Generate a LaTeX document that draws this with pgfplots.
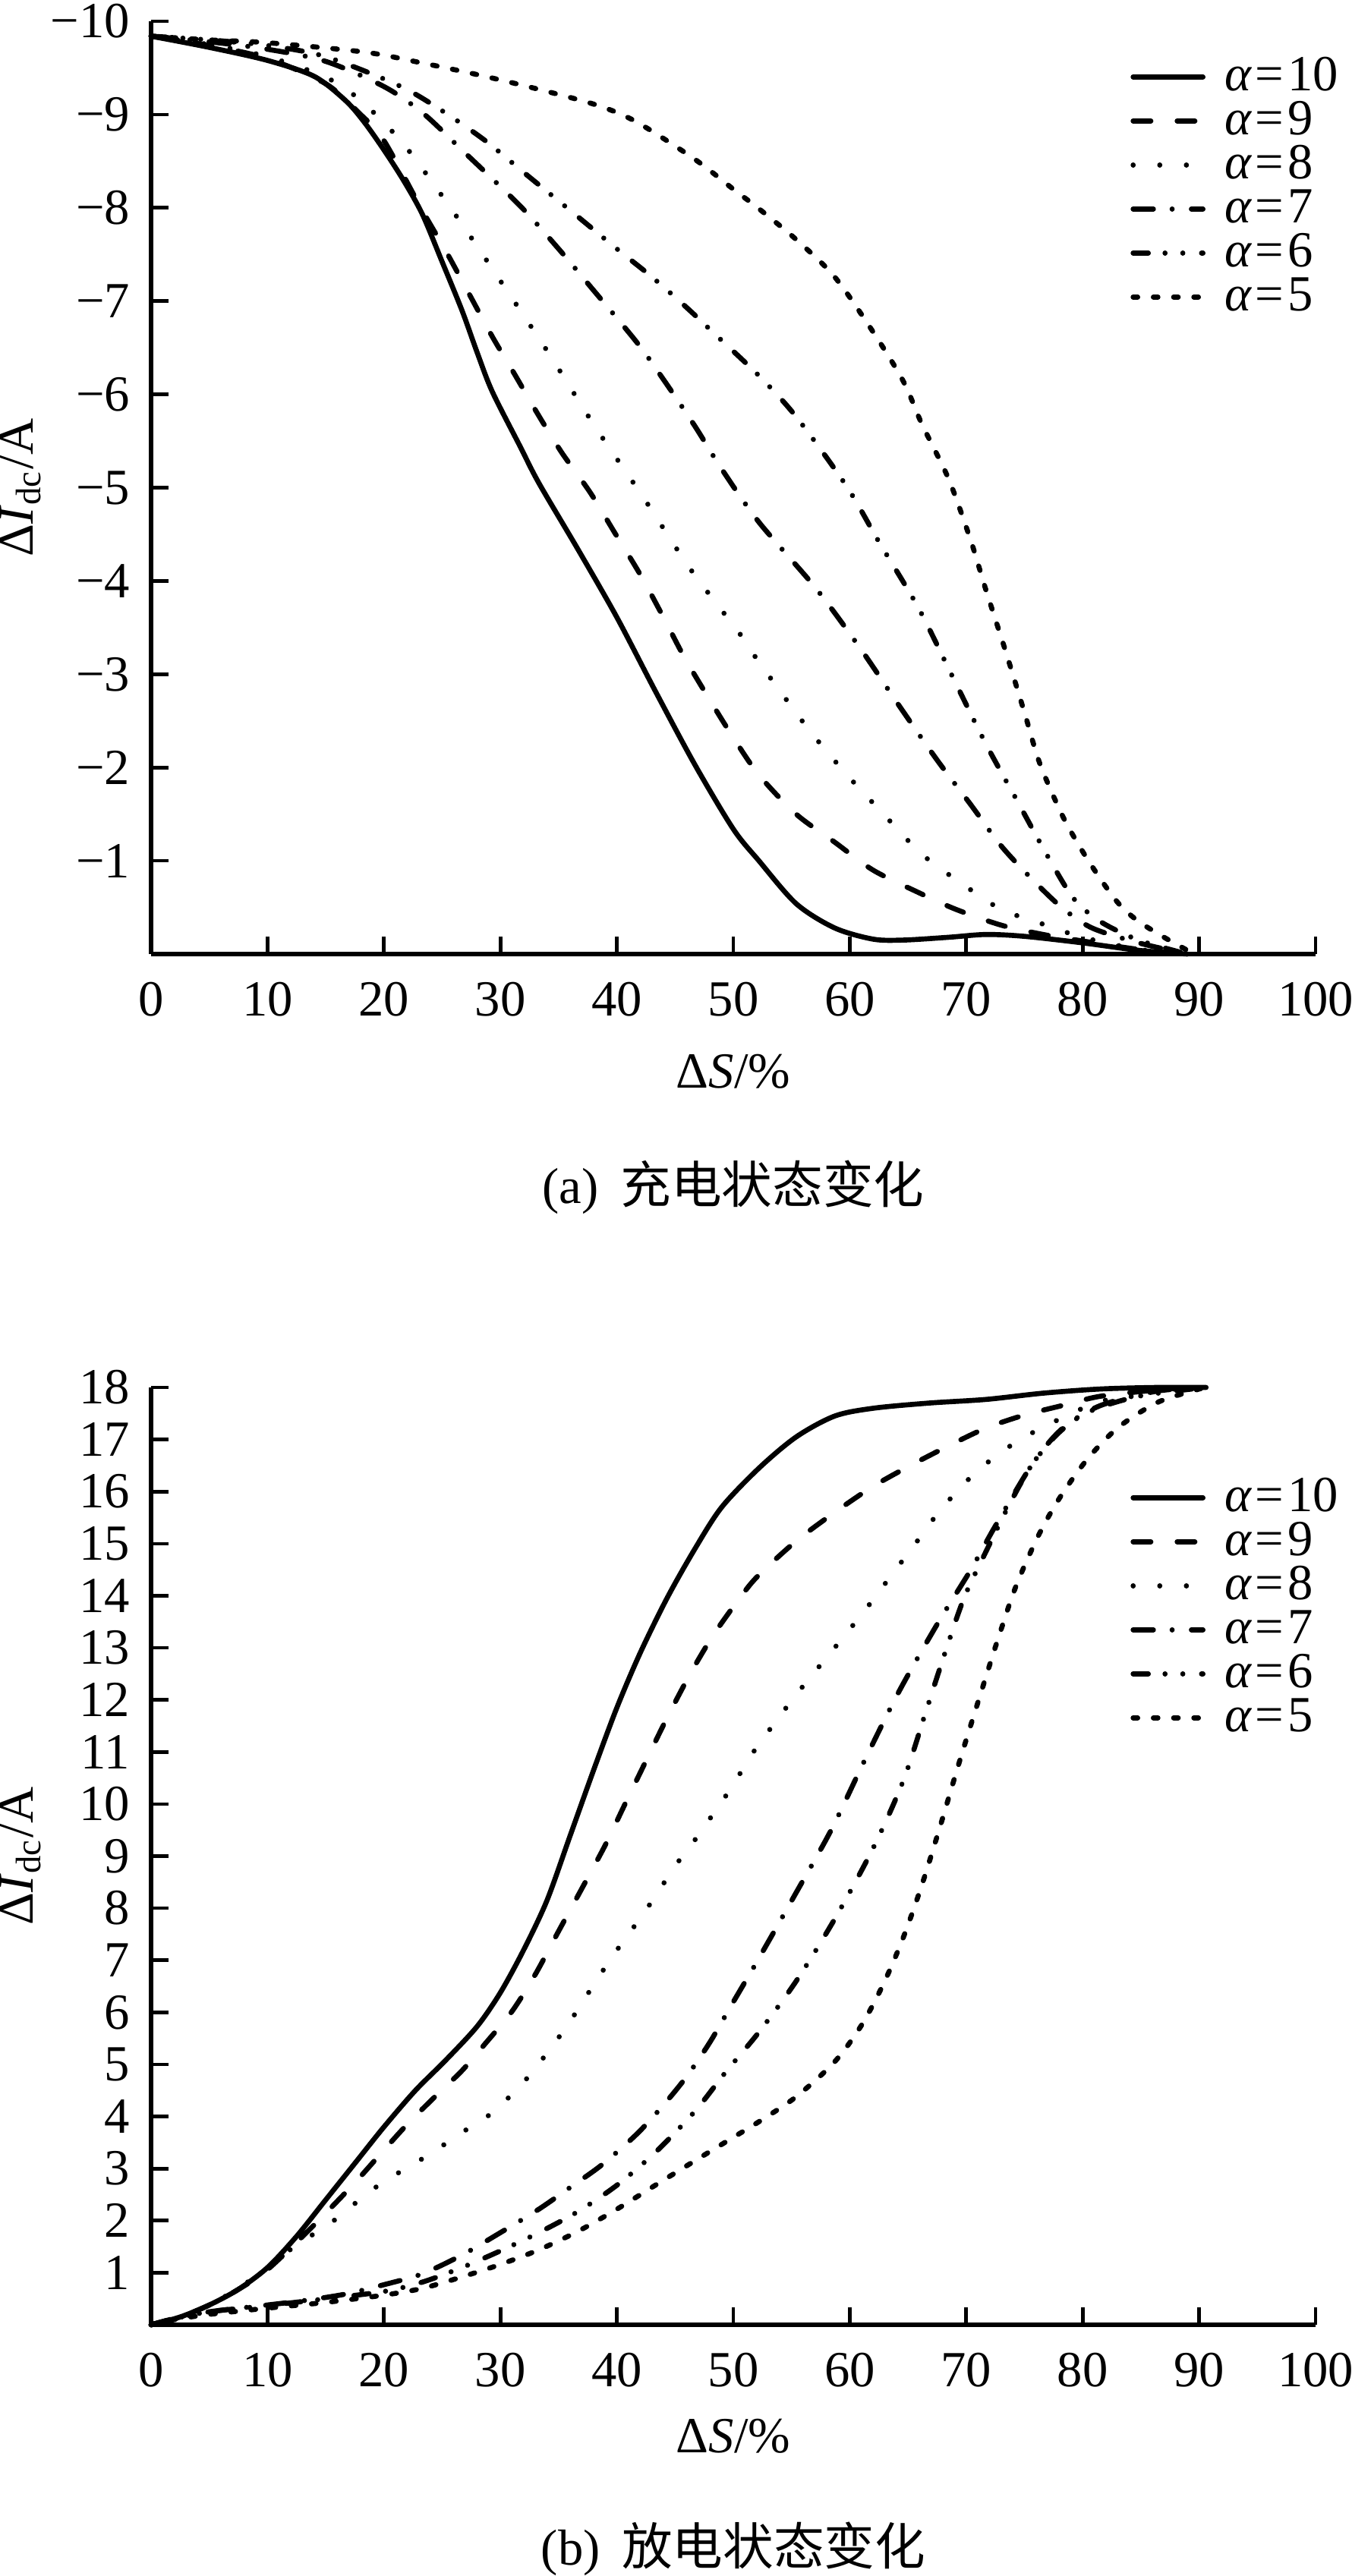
\documentclass[border=0pt]{standalone}
\usepackage{fontspec}
\setmainfont{Liberation Serif}
\newfontfamily\cjk{Noto Sans CJK SC}
\usepackage{pgfplots}
\pgfplotsset{compat=1.18}

\newcommand{\al}[1]{{\itshape α}\kern0.8pt=\kern0.8pt#1}

\pgfplotsset{
  base/.style={
    scale only axis, width=230.1pt,
    xmin=0, xmax=100, xtick={0,10,...,100},
    axis lines=left, axis line style={-, line width=0.8pt},
    tick align=inside, major tick length=3.5pt,
    tick style={line width=0.7pt, black},
    /pgf/number format/assume math mode=true,
    xticklabel style={anchor=center, yshift=-9pt},
    yticklabel style={anchor=east, inner sep=0pt, xshift=-4pt},
    xlabel={Δ\textit{S}/\%},
    ylabel={Δ\textit{I}\textsubscript{dc}/A},
    ylabel style={at={(axis description cs:-0.1121,0.5)}, anchor=center},
    clip=false,
    legend cell align=left,
    legend image code/.code={\draw[#1] (0pt,0pt) -- (13.8pt,0pt);},
    every axis plot/.append style={line width=1pt, line cap=round, black, smooth},
  },
  s10/.style={solid},
  s9/.style={dash pattern=on 3.5pt off 5.2pt},
  s8/.style={dash pattern=on 0.01pt off 5.25pt},
  s7/.style={dash pattern=on 4pt off 3.7pt on 0.01pt off 3.8pt},
  s6/.style={dash pattern=on 3pt off 3.3pt on 0.01pt off 3.5pt on 0.01pt off 3.7pt},
  s5/.style={dash pattern=on 0.9pt off 3.1pt},
}

\begin{document}
\begin{tikzpicture}
\useasboundingbox (-29.85pt,-320.55pt) rectangle (237.3pt,188.55pt);

% ---------------- (a) charging ----------------
\begin{axis}[base, height=184.35pt, at={(0,0)}, anchor=south west,
  ymin=-10, ymax=0, y dir=reverse,
  ytick={-10,-9,-8,-7,-6,-5,-4,-3,-2,-1},
  yticklabels={−10,−9,−8,−7,−6,−5,−4,−3,−2,−1},
  xlabel style={at={(axis description cs:0.5,0)}, anchor=center, yshift=-23.25pt},
  legend style={draw=none, fill=none, at={(0.8403,0.9599)}, anchor=north west,
    inner sep=0pt, row sep=1.9pt, column sep=3.75pt,
    nodes={inner sep=0pt, text height=6.2pt, text depth=0.6pt, anchor=west}},
]
\addplot[s10] coordinates {
(0,-9.84) (5,-9.72) (10,-9.58) (14,-9.41) (16.7,-9.15) (18.3,-8.92) (20,-8.62)
(21.7,-8.29) (23.3,-7.93) (25,-7.42) (26.7,-6.9) (28,-6.45) (29.3,-6.03)
(31.7,-5.44) (33.3,-5.05) (36.7,-4.33) (40,-3.61) (43.3,-2.82) (46.7,-2.03)
(50,-1.34) (52.2,-1.0) (55.4,-0.54) (58.7,-0.28) (62,-0.16) (64.6,-0.15)
(68.5,-0.18) (71.7,-0.21) (75,-0.19) (80,-0.12) (84.8,-0.04) (89,0)};
\addlegendentry{\al{10}}
\addplot[s9] coordinates {
(0,-9.84) (5,-9.74) (10,-9.6) (15,-9.33) (18,-9.0) (20,-8.72) (23.3,-7.97)
(25.3,-7.54) (27.3,-7.08) (29.3,-6.62) (31.2,-6.22) (33.3,-5.77) (35.3,-5.37)
(37.7,-4.95) (39.8,-4.52) (42,-4.07) (44,-3.61) (45.8,-3.18) (48,-2.72)
(50,-2.32) (52.2,-1.92) (55.4,-1.5) (58.7,-1.2) (62,-0.9) (65.9,-0.66)
(69.1,-0.48) (73,-0.31) (76.6,-0.21) (80,-0.14) (84.8,-0.05) (89,0)};
\addlegendentry{\al{9}}
\addplot[s8] coordinates {
(0,-9.84) (5,-9.75) (10,-9.62) (15,-9.4) (18,-9.15) (21.7,-8.68) (26,-7.95)
(30.2,-7.18) (34.2,-6.43) (38.2,-5.64) (42.3,-4.89) (46.3,-4.13) (50.7,-3.41)
(52.2,-3.13) (56.4,-2.42) (59.7,-1.93) (62.9,-1.5) (66.2,-1.07) (69.8,-0.74)
(73,-0.48) (76.6,-0.32) (80,-0.18) (84.8,-0.05) (89,0)};
\addlegendentry{\al{8}}
\addplot[s7] coordinates {
(0,-9.84) (5,-9.78) (10,-9.7) (15,-9.57) (20,-9.3) (23.3,-9.02) (26.7,-8.62)
(31.7,-8.02) (35,-7.56) (37.7,-7.16) (41.7,-6.56) (44,-6.16) (46.7,-5.66)
(49,-5.2) (52.2,-4.63) (57.1,-3.92) (61,-3.26) (64.2,-2.67) (67.5,-2.08)
(70.4,-1.6) (73,-1.16) (75.6,-0.81) (78.2,-0.5) (80.8,-0.28) (84.8,-0.12) (89,0)};
\addlegendentry{\al{7}}
\addplot[s6] coordinates {
(0,-9.84) (5,-9.8) (10,-9.74) (15,-9.62) (21.3,-9.31) (25,-9.04) (28.7,-8.72)
(32,-8.38) (36.7,-7.9) (40,-7.56) (43,-7.26) (46,-6.93) (48.3,-6.66)
(52.2,-6.2) (55.4,-5.76) (59.7,-5.02) (62.5,-4.42) (65.9,-3.71) (68.8,-2.98)
(71.7,-2.25) (74.3,-1.66) (76.9,-1.07) (79.2,-0.6) (81.5,-0.35) (84.8,-0.15) (89,0)};
\addlegendentry{\al{6}}
\addplot[s5] coordinates {
(0,-9.84) (5,-9.8) (10,-9.77) (18.3,-9.67) (23,-9.56) (28.3,-9.42) (33.3,-9.27)
(38.3,-9.1) (41.7,-8.92) (46.7,-8.52) (50,-8.2) (52.2,-7.99) (55.4,-7.66)
(58.7,-7.26) (62,-6.67) (64.6,-6.14) (66.2,-5.68) (68.5,-5.09) (70.4,-4.43)
(71.7,-3.9) (73.4,-3.24) (75,-2.59) (76.3,-2.05) (78.2,-1.5) (79.8,-1.14)
(81.5,-0.81) (83.1,-0.54) (84.8,-0.35) (87.4,-0.15) (89.6,0)};
\addlegendentry{\al{5}}
\end{axis}

% ---------------- (b) discharging ----------------
\begin{axis}[base, height=185.25pt, at={(0,-270.9pt)}, anchor=south west,
  ymin=0, ymax=18,
  ytick={1,2,...,18},
  xlabel style={at={(axis description cs:0.5,0)}, anchor=center, yshift=-22.05pt},
  legend style={draw=none, fill=none, at={(0.8403,0.9018)}, anchor=north west,
    inner sep=0pt, row sep=1.9pt, column sep=3.75pt,
    nodes={inner sep=0pt, text height=6.2pt, text depth=0.6pt, anchor=west}},
]
\addplot[s10] coordinates {
(0,0) (2.5,0.15) (5,0.38) (7.5,0.68) (10,1.1) (12.5,1.7) (15,2.4) (17.5,3.1)
(20,3.8) (22.7,4.5) (25.3,5.08) (28,5.73) (30,6.38) (32,7.2) (34,8.15)
(36,9.4) (38,10.65) (40,11.85) (42,12.9) (44.3,13.95) (46.7,14.9)
(49,15.7) (52.2,16.45) (55.4,17.05) (58.7,17.45) (62,17.6) (66.8,17.7)
(71.7,17.77) (76.6,17.89) (81.5,17.97) (86.4,18.0) (90.6,18.0)};
\addlegendentry{\al{10}}
\addplot[s9] coordinates {
(0,0) (2.5,0.15) (5,0.38) (7.5,0.68) (10,1.06) (13.7,1.85) (17.3,2.68) (19.7,3.28)
(22,3.85) (24.7,4.45) (26.7,4.88) (28.7,5.4) (31,6.02) (33,6.73) (35,7.56)
(37,8.38) (39,9.21) (40.7,10.0) (42.7,10.92) (44.3,11.65) (46.3,12.5)
(48.3,13.25) (50.7,14.0) (52.2,14.4) (55.4,15.05) (58.7,15.6) (62,16.1)
(65.2,16.5) (68.5,16.88) (71.7,17.22) (75,17.47) (78.2,17.65) (81.5,17.83)
(86.4,17.95) (90.6,18.0)};
\addlegendentry{\al{9}}
\addplot[s8] coordinates {
(0,0) (2.5,0.15) (5,0.38) (7.5,0.7) (10,1.1) (12,1.45) (14,1.75) (16,2.05)
(18,2.42) (20,2.75) (23.3,3.19) (25.3,3.48) (27.3,3.78) (29.3,4.07) (31,4.43)
(32.7,4.84) (34.3,5.31) (35.7,5.73) (37,6.18) (38.3,6.63) (39.7,7.1)
(41.2,7.56) (42.7,8.03) (44,8.47) (45.3,8.9) (47,9.4) (48.3,9.82) (49.7,10.27)
(51,10.74) (52.2,11.15) (55.4,12.1) (58.7,13.0) (61.3,13.72) (63.6,14.4)
(65.9,15.08) (67.8,15.65) (70.4,16.28) (73,16.76) (75.6,17.12) (77.9,17.38)
(79.9,17.59) (83.1,17.83) (86.7,17.95) (90.6,18.0)};
\addlegendentry{\al{8}}
\addplot[s7] coordinates {
(0,0) (2,0.12) (5,0.25) (10,0.38) (13.3,0.47) (16.7,0.59) (20,0.77)
(23.3,0.98) (26.7,1.34) (30,1.77) (33.3,2.22) (36,2.64) (38.7,3.07)
(41.7,3.66) (44,4.22) (46,4.77) (48,5.43) (50,6.2) (52.2,7.04) (55.4,8.3)
(58.4,9.5) (61.3,10.85) (64.2,12.15) (67.5,13.45) (70.4,14.5) (72.4,15.3)
(75.6,16.5) (78.2,17.2) (81.5,17.65) (86.4,17.93) (90.6,18.0)};
\addlegendentry{\al{7}}
\addplot[s6] coordinates {
(0,0) (2,0.12) (5,0.25) (10,0.37) (15,0.5) (20,0.64) (23.3,0.82) (26.7,1.1)
(30,1.42) (33.3,1.77) (36.7,2.18) (40,2.68) (43.3,3.31) (46.7,4.1)
(49.3,4.84) (52.2,5.62) (55.4,6.6) (58.7,7.79) (62,9.15) (64.6,10.45)
(66.5,11.75) (68.1,12.85) (69.8,13.95) (71.7,14.85) (73.7,15.75) (75.6,16.5)
(77.9,17.12) (80.5,17.53) (84.8,17.83) (90.6,18.0)};
\addlegendentry{\al{6}}
\addplot[s5] coordinates {
(0,0) (2,0.1) (5,0.2) (10,0.32) (15,0.43) (20,0.57) (23.3,0.7) (26.7,0.92)
(30,1.16) (33.3,1.44) (36.7,1.8) (40,2.22) (43.3,2.68) (46.7,3.15) (50,3.6)
(52.2,3.9) (55.4,4.38) (58.7,5.05) (61,5.75) (62.9,6.55) (64.6,7.44)
(66.2,8.45) (67.8,9.6) (69.4,10.8) (71.1,12.02) (72.7,13.15) (74.3,14.2)
(76.3,15.2) (78.2,15.94) (80.5,16.65) (83.1,17.24) (86.4,17.71) (89.7,17.95)
(90.6,18.0)};
\addlegendentry{\al{5}}
\end{axis}

\node at (115.05pt,-46.05pt) {(a)\kern4.3pt{\cjk 充电状态变化}};
\node at (115.05pt,-315.15pt) {(b)\kern4.3pt{\cjk 放电状态变化}};
\end{tikzpicture}
\end{document}
